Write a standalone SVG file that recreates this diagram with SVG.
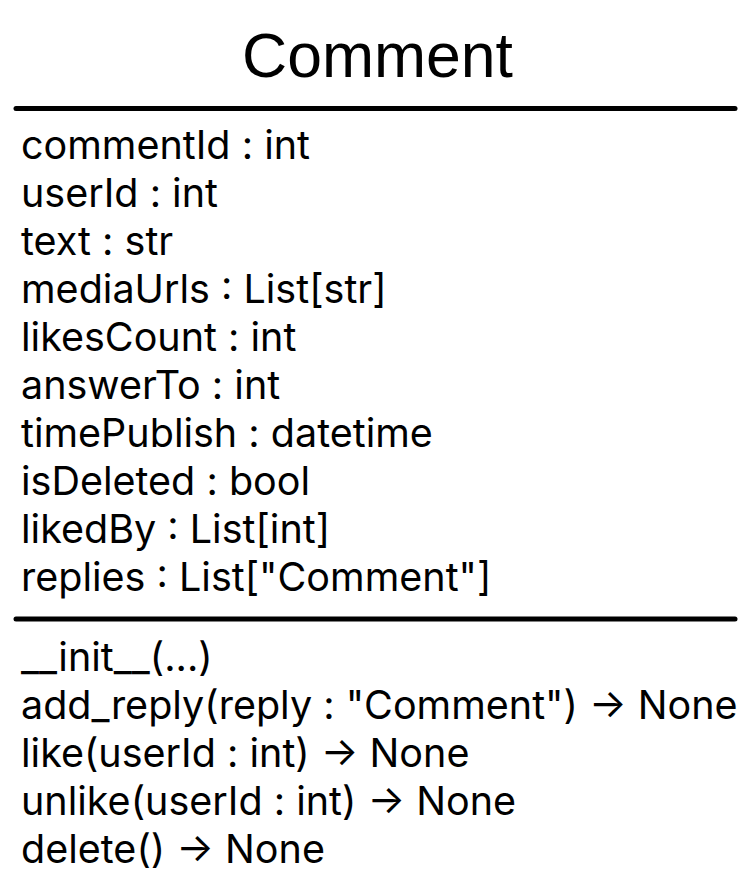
<svg xmlns="http://www.w3.org/2000/svg" width="756" height="892" viewBox="0 0 756 892">
<style>
.t{font-family:"Liberation Sans",Arial,sans-serif;font-size:62.5px;fill:#000}
.m{font-family:Inter,"Noto Sans",sans-serif;font-size:39.5px;fill:#000}
.sep{stroke:#000;stroke-width:5;stroke-linecap:round}
</style>
<rect width="756" height="892" fill="#fff"/>
<g id="Comment">
<text class="t" x="377.5" y="77" text-anchor="middle">Comment</text>
<line class="sep" x1="16" y1="108.5" x2="735" y2="108.5"/>
<g id="attributes">
<text class="m" x="21" y="159">commentId : int</text>
<text class="m" x="21" y="207">userId : int</text>
<text class="m" x="21" y="255">text : str</text>
<text class="m" x="21" y="303">mediaUrls : List[str]</text>
<text class="m" x="21" y="351">likesCount : int</text>
<text class="m" x="21" y="399">answerTo : int</text>
<text class="m" x="21" y="447">timePublish : datetime</text>
<text class="m" x="21" y="495">isDeleted : bool</text>
<text class="m" x="21" y="543">likedBy : List[int]</text>
<text class="m" x="21" y="591">replies : List["Comment"]</text>
</g>
<line class="sep" x1="16" y1="619" x2="735" y2="619"/>
<g id="methods">
<text class="m" x="21" y="671">__init__(...)</text>
<text class="m" x="21" y="719">add_reply(reply : "Comment") → None</text>
<text class="m" x="21" y="767">like(userId : int) → None</text>
<text class="m" x="21" y="815">unlike(userId : int) → None</text>
<text class="m" x="21" y="863">delete() → None</text>
</g>
</g>
<g id="connectors"/>
</svg>
